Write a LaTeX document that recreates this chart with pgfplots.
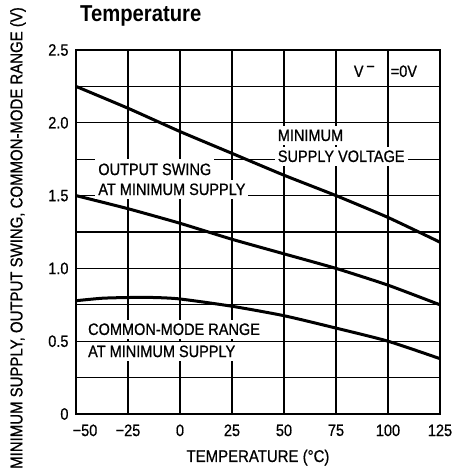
\documentclass[border=0pt]{standalone}
\usepackage{fontspec}
\setmainfont{Liberation Sans}[FakeStretch=0.88, UprightFeatures={FakeBold=0.7}]
\usepackage{pgfplots}
\pgfplotsset{compat=1.18}
\begin{document}
\begin{tikzpicture}[x=1pt,y=1pt]
\useasboundingbox (-76,-59) rectangle (377,414);
\begin{axis}[
  at={(0,0)}, anchor=south west,
  scale only axis, width=364pt, height=364pt,
  xmin=-50, xmax=125, ymin=0, ymax=2.5,
  xtick={-50,-25,0,25,50,75,100,125},
  xticklabels={\hspace*{18pt}−50,−25,0,25,50,75,100,125},
  ytick={0,0.5,1,1.5,2,2.5},
  yticklabels={0,0.5,1.0,1.5,2.0,2.5},
  minor ytick={0.25,0.75,1.25,1.75,2.25},
  grid=both,
  major grid style={black, line width=1.35pt},
  minor grid style={black, line width=1.35pt},
  major tick length=0pt, minor tick length=0pt,
  axis line style={line width=2pt},
  tick label style={font=\fontsize{16.5}{16.5}\selectfont},
  xticklabel style={yshift=-7pt},
  yticklabel style={xshift=-4pt},
  clip=true,
]
\addplot[black, line width=3pt, smooth, tension=0.3] coordinates {
 (-50,2.25) (-25,2.10) (0,1.94) (25,1.79) (50,1.64) (75,1.50) (100,1.35) (125,1.18)};
\addplot[black, line width=3pt, smooth, tension=0.3] coordinates {
 (-50,1.50) (-25,1.41) (0,1.31) (25,1.20) (50,1.10) (75,1.00) (100,0.885) (125,0.75)};
\addplot[black, line width=3pt, smooth, tension=0.4] coordinates {
 (-50,0.778) (-37.5,0.795) (-25,0.80) (-12.5,0.80) (0,0.79) (25,0.74) (50,0.675) (75,0.59) (100,0.50) (125,0.38)};
\tikzset{lbl/.style={fill=white, inner xsep=3pt, inner ysep=3.5pt, anchor=base west, font=\fontsize{16.5}{16.5}\selectfont}}
\node[lbl] at (axis cs:45.5,1.875) {MINIMUM};
\node[lbl] at (axis cs:45.5,1.731) {SUPPLY VOLTAGE};
\node[lbl, inner ysep=5pt] at (axis cs:-40.8,1.641) {OUTPUT SWING};
\node[lbl] at (axis cs:-40.8,1.504) {AT MINIMUM SUPPLY};
\node[lbl] at (axis cs:-45.7,0.543) {COMMON-MODE RANGE};
\node[lbl] at (axis cs:-45.7,0.391) {AT MINIMUM SUPPLY};
\node[anchor=base west, inner sep=0pt, font=\fontsize{16.5}{16.5}\selectfont] at (axis cs:83.5,2.315) {V\,\raisebox{0.3em}{−}};
\node[anchor=base west, fill=white, inner xsep=0.5pt, inner ysep=1pt, font=\fontsize{16.5}{16.5}\selectfont] at (axis cs:101,2.315) {=0V};
\end{axis}
\node[anchor=base west, inner sep=0pt, font=\bfseries\fontsize{23}{23}\selectfont] at (4,392) {Temperature};
\node[anchor=base, inner sep=0pt, font=\fontsize{17}{17}\selectfont] at (182,-48) {TEMPERATURE (°C)};
\node[rotate=90, inner sep=0pt, font=\fontsize{17}{17}\selectfont] at (-58,176) {MINIMUM SUPPLY, OUTPUT SWING, COMMON-MODE RANGE (V)};
\end{tikzpicture}
\end{document}
